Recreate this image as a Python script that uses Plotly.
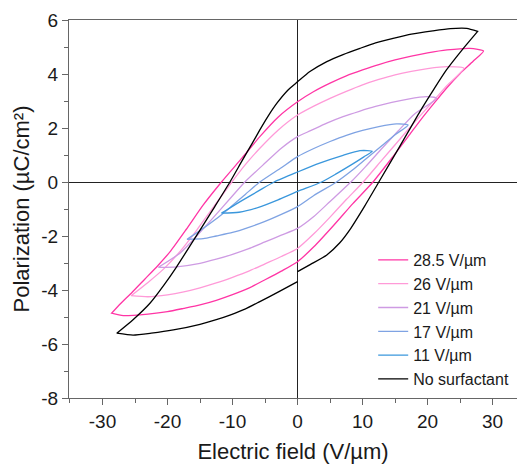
import plotly.graph_objects as go

# ---- data ----
labels = ["28.5 V/µm", "26 V/µm", "21 V/µm", "17 V/µm", "11 V/µm", "No surfactant"]
colors = ["#FF35A5", "#FF9AD8", "#CE9BE3", "#7FA3E3", "#3A97DC", "#000000"]

# 28.5 V/um loop: upper branch (E decreasing) then lower branch (E increasing)
e285_up = [28.6, 26.5, 23.0, 20.0, 17.5, 15.0, 12.5, 10.0, 7.5, 5.0, 2.5, 0.0, -3.0, -5.8, -8.5, -11.7,
           -14.5, -17.1, -19.5, -21.5, -23.5, -25.5, -27.2, -28.6]
p285_up = [4.85, 4.95, 4.89, 4.78, 4.66, 4.52, 4.35, 4.15, 3.93, 3.66, 3.35, 2.97, 2.40, 1.68, 0.90, 0.0,
           -0.85, -1.75, -2.55, -3.10, -3.60, -4.10, -4.50, -4.86]
e285_lo = [-28.6, -26.8, -23.0, -20.0, -17.5, -15.0, -12.5, -10.0, -7.5, -5.0, -2.5, 0.0, 2.5, 5.5, 8.5,
           11.6, 14.7, 17.0, 19.0, 21.0, 23.0, 25.0, 27.0, 28.6]
p285_lo = [-4.86, -4.95, -4.89, -4.80, -4.68, -4.55, -4.38, -4.17, -3.93, -3.62, -3.30, -2.95, -2.40, -1.62,
           -0.80, 0.0, 0.95, 1.68, 2.32, 2.92, 3.50, 4.02, 4.47, 4.85]

# 26 V/um loop
e26_up = [25.6, 23.0, 20.0, 17.5, 15.0, 12.5, 10.0, 7.5, 5.0, 2.5, 0.0, -3.0, -5.8, -8.0, -10.1, -13.0,
          -15.5, -18.0, -20.5, -23.0, -25.6]
p26_up = [4.21, 4.27, 4.20, 4.10, 3.97, 3.80, 3.60, 3.36, 3.10, 2.81, 2.48, 1.92, 1.25, 0.65, 0.0, -0.95,
          -1.78, -2.55, -3.20, -3.72, -4.21]
e26_lo = [-25.6, -23.0, -20.0, -17.5, -15.0, -12.5, -10.0, -7.5, -5.0, -2.5, 0.0, 2.5, 5.0, 7.5, 10.1,
          13.0, 15.5, 18.0, 20.5, 23.0, 25.6]
p26_lo = [-4.21, -4.25, -4.18, -4.07, -3.92, -3.74, -3.53, -3.30, -3.03, -2.76, -2.46, -1.92, -1.30, -0.65,
          0.0, 0.82, 1.52, 2.22, 2.90, 3.58, 4.21]

# 21 V/um loop
e21_up = [21.4, 19.8, 17.0, 14.5, 12.0, 9.5, 7.0, 4.5, 2.0, 0.0, -2.5, -5.0, -8.1, -10.4, -13.0, -15.5, -18.0, -21.4]
p21_up = [3.10, 3.16, 3.07, 2.95, 2.80, 2.62, 2.42, 2.18, 1.90, 1.68, 1.25, 0.70, 0.0, -0.62, -1.33, -2.00, -2.62, -3.16]
e21_lo = [-21.4, -18.6, -15.0, -12.5, -10.0, -7.5, -5.0, -2.5, 0.0, 2.5, 5.0, 8.2, 10.5, 13.0, 15.5, 18.0, 21.4]
p21_lo = [-3.16, -3.14, -3.01, -2.86, -2.68, -2.47, -2.22, -1.97, -1.72, -1.28, -0.72, 0.0, 0.58, 1.25, 1.90, 2.52, 3.10]

# 17 V/um loop
e17_up = [17.0, 15.2, 12.5, 10.0, 7.5, 5.0, 2.5, 0.0, -2.5, -5.8, -8.0, -10.4, -12.7, -15.0, -17.0]
p17_up = [2.11, 2.15, 2.05, 1.91, 1.73, 1.50, 1.24, 0.94, 0.53, 0.0, -0.45, -0.95, -1.40, -1.80, -2.12]
e17_lo = [-17.0, -14.5, -12.5, -10.0, -7.5, -5.0, -2.5, 0.0, 2.5, 6.0, 8.5, 10.5, 13.0, 15.0, 17.0]
p17_lo = [-2.12, -2.10, -2.00, -1.87, -1.68, -1.46, -1.20, -0.91, -0.50, 0.0, 0.45, 0.85, 1.35, 1.75, 2.11]

# 11 V/um loop
e11_up = [11.5, 9.6, 7.0, 3.4, 0.0, -3.6, -6.0, -8.5, -10.2, -11.7]
p11_up = [1.14, 1.16, 0.99, 0.70, 0.37, 0.0, -0.33, -0.68, -0.93, -1.15]
e11_lo = [-11.7, -9.0, -6.0, -3.0, 0.0, 3.7, 6.0, 8.5, 10.2, 11.5]
p11_lo = [-1.15, -1.12, -0.94, -0.66, -0.35, 0.0, 0.31, 0.67, 0.93, 1.14]

# No surfactant loop (the lower branch has a small step at E = 0)
e0_up = [27.7, 26.0, 23.5, 20.8, 17.5, 14.7, 12.0, 9.6, 7.0, 4.5, 1.9, 0.0, -1.5, -3.2, -4.5, -5.8, -7.0,
         -8.5, -10.4, -12.7, -15.0, -18.6, -20.5, -22.7, -25.3, -27.8]
p0_up = [5.58, 5.69, 5.68, 5.60, 5.48, 5.32, 5.15, 4.95, 4.72, 4.46, 4.09, 3.71, 3.40, 2.91, 2.45, 1.93, 1.42,
         0.80, 0.0, -0.90, -1.78, -3.14, -3.80, -4.49, -5.10, -5.60]
e0_lo_a = [-27.8, -25.3, -22.5, -19.1, -15.0, -12.5, -10.4, -8.0, -5.8, -3.0, 0.0]
p0_lo_a = [-5.60, -5.67, -5.60, -5.48, -5.27, -5.10, -4.93, -4.70, -4.43, -4.08, -3.69]
e0_lo_b = [0.0, 2.0, 4.5, 6.5, 8.0, 10.3, 12.5, 15.7, 18.8, 21.0, 22.9, 25.5, 27.7]
p0_lo_b = [-3.32, -3.05, -2.70, -2.25, -1.78, -0.90, 0.0, 1.31, 2.60, 3.45, 4.15, 4.95, 5.58]

loops = [
    (e285_up + e285_lo, p285_up + p285_lo),
    (e26_up + e26_lo, p26_up + p26_lo),
    (e21_up + e21_lo, p21_up + p21_lo),
    (e17_up + e17_lo, p17_up + p17_lo),
    (e11_up + e11_lo, p11_up + p11_lo),
    (e0_lo_b + e0_up + e0_lo_a, p0_lo_b + p0_up + p0_lo_a),
]

x_ticks = [-30, -20, -10, 0, 10, 20, 30]
x_ticktext = ["-30", "-20", "-10", "0", "10", "20", "30"]
y_ticks = [-8, -6, -4, -2, 0, 2, 4, 6]
y_ticktext = ["-8", "-6", "-4", "-2", "0", "2", "4", "6"]

fig = go.Figure()
for (xs, ys), name, col in zip(loops, labels, colors):
    fig.add_trace(go.Scatter(x=xs, y=ys, mode="lines", name=name, legendgroup=name,
                             line=dict(color=col, width=1.3, shape="spline", smoothing=0.6)))

font_family = "Arial, Liberation Sans, sans-serif"
axis_common = dict(showgrid=False, showline=True, linecolor="#666666", linewidth=1.3,
                   ticks="outside", ticklen=6, tickwidth=1.2, tickcolor="#666666",
                   zeroline=True, zerolinecolor="#222222", zerolinewidth=1.3, automargin=False,
                   tickfont=dict(size=19, color="#1a1a1a", family=font_family))

fig.update_layout(
    width=518, height=464,
    margin=dict(l=69, r=1, t=20, b=66),
    paper_bgcolor="white", plot_bgcolor="white",
    font=dict(family=font_family, color="#1a1a1a"),
    showlegend=True,
    legend=dict(x=0.679, y=0.41, xanchor="left", yanchor="top",
                font=dict(size=16, color="#1a1a1a", family=font_family),
                bgcolor="rgba(0,0,0,0)", tracegroupgap=0),
    xaxis=dict(range=[-35.15, 33.75], tickvals=x_ticks, ticktext=x_ticktext, mirror=True,
               minor=dict(dtick=5, ticklen=3.5, ticks="outside", tickcolor="#666666"),
               title=dict(text="Electric field (V/µm)", font=dict(size=22, family=font_family), standoff=14),
               **axis_common),
    yaxis=dict(range=[-8, 6], tickvals=y_ticks, ticktext=y_ticktext,
               minor=dict(dtick=1, ticklen=3.5, ticks="outside", tickcolor="#666666"),
               title=dict(text="Polarization (µC/cm²)", font=dict(size=22, family=font_family), standoff=5),
               **axis_common),
)

fig.write_html("out.html", config={"displayModeBar": False},
               post_script="document.body.style.margin='0px';")
